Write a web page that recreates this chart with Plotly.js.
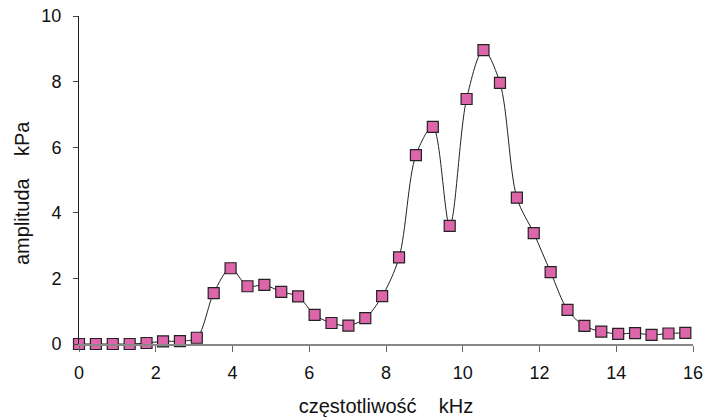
<!DOCTYPE html>
<html>
<head>
<meta charset="utf-8">
<script src="https://cdn.plot.ly/plotly-3.0.1.min.js"></script>
<style>html,body{margin:0;padding:0;background:#fff;}#chart{width:705px;height:420px;}</style>
</head>
<body>
<div id="chart"></div>
<script>
// frequency (kHz)
const freq = [0.00, 0.44, 0.88, 1.32, 1.76, 2.19, 2.63, 3.07, 3.51, 3.95,
  4.39, 4.83, 5.27, 5.71, 6.14, 6.58, 7.02, 7.46, 7.90, 8.34,
  8.78, 9.22, 9.66, 10.10, 10.54, 10.97, 11.41, 11.85, 12.29, 12.73,
  13.17, 13.61, 14.05, 14.49, 14.92, 15.36, 15.80];
// amplitude (kPa)
const amp = [0.00, 0.00, 0.00, 0.00, 0.03, 0.08, 0.09, 0.19, 1.55, 2.31,
  1.76, 1.80, 1.59, 1.45, 0.89, 0.64, 0.56, 0.79, 1.46, 2.64,
  5.76, 6.62, 3.60, 7.47, 8.96, 7.96, 4.46, 3.38, 2.19, 1.04,
  0.55, 0.38, 0.31, 0.33, 0.28, 0.32, 0.34];
const xTicks = [0, 2, 4, 6, 8, 10, 12, 14, 16];
const yTicks = [0, 2, 4, 6, 8, 10];
const xTitle = 'częstotliwość\u00a0\u00a0\u00a0\u00a0kHz';
const yTitle = 'amplituda\u00a0\u00a0\u00a0\u00a0kPa';

const trace = {
  x: freq, y: amp, type: 'scatter', mode: 'lines+markers',
  line: {color: '#222', width: 1, shape: 'spline', smoothing: 0.9},
  marker: {symbol: 'square', size: 11, color: '#DD66AA', line: {color: '#222', width: 1.2}},
  cliponaxis: false, hoverinfo: 'none'
};
const tickFont = {family: 'Liberation Sans, Arial, sans-serif', size: 18, color: '#111'};
const titleFont = {family: 'Liberation Sans, Arial, sans-serif', size: 20, color: '#111'};
const layout = {
  width: 705, height: 420,
  margin: {l: 79, r: 12, t: 16, b: 76},
  paper_bgcolor: '#fff', plot_bgcolor: '#fff',
  font: tickFont, showlegend: false,
  xaxis: {
    range: [0, 16], tickvals: xTicks, ticktext: xTicks.map(String),
    showgrid: false, zeroline: false, showline: true, linecolor: '#888', linewidth: 1.5,
    ticks: 'outside', ticklen: 6, tickcolor: '#666', tickwidth: 1,
    tickfont: tickFont, ticklabelstandoff: 6,
    title: {text: xTitle, font: titleFont, standoff: 17}
  },
  yaxis: {
    range: [0, 10], tickvals: yTicks, ticktext: yTicks.map(String),
    showgrid: false, zeroline: false, showline: true, linecolor: '#222', linewidth: 1,
    ticks: 'outside', ticklen: 5, tickcolor: '#444', tickwidth: 1,
    tickfont: tickFont, ticklabelstandoff: 8
  },
  annotations: [{
    text: yTitle, textangle: -90, font: titleFont, showarrow: false,
    xref: 'paper', yref: 'paper', x: -0.093, y: 0.46,
    xanchor: 'center', yanchor: 'middle'
  }]
};
Plotly.newPlot('chart', [trace], layout, {staticPlot: true, displayModeBar: false});
</script>
</body>
</html>
